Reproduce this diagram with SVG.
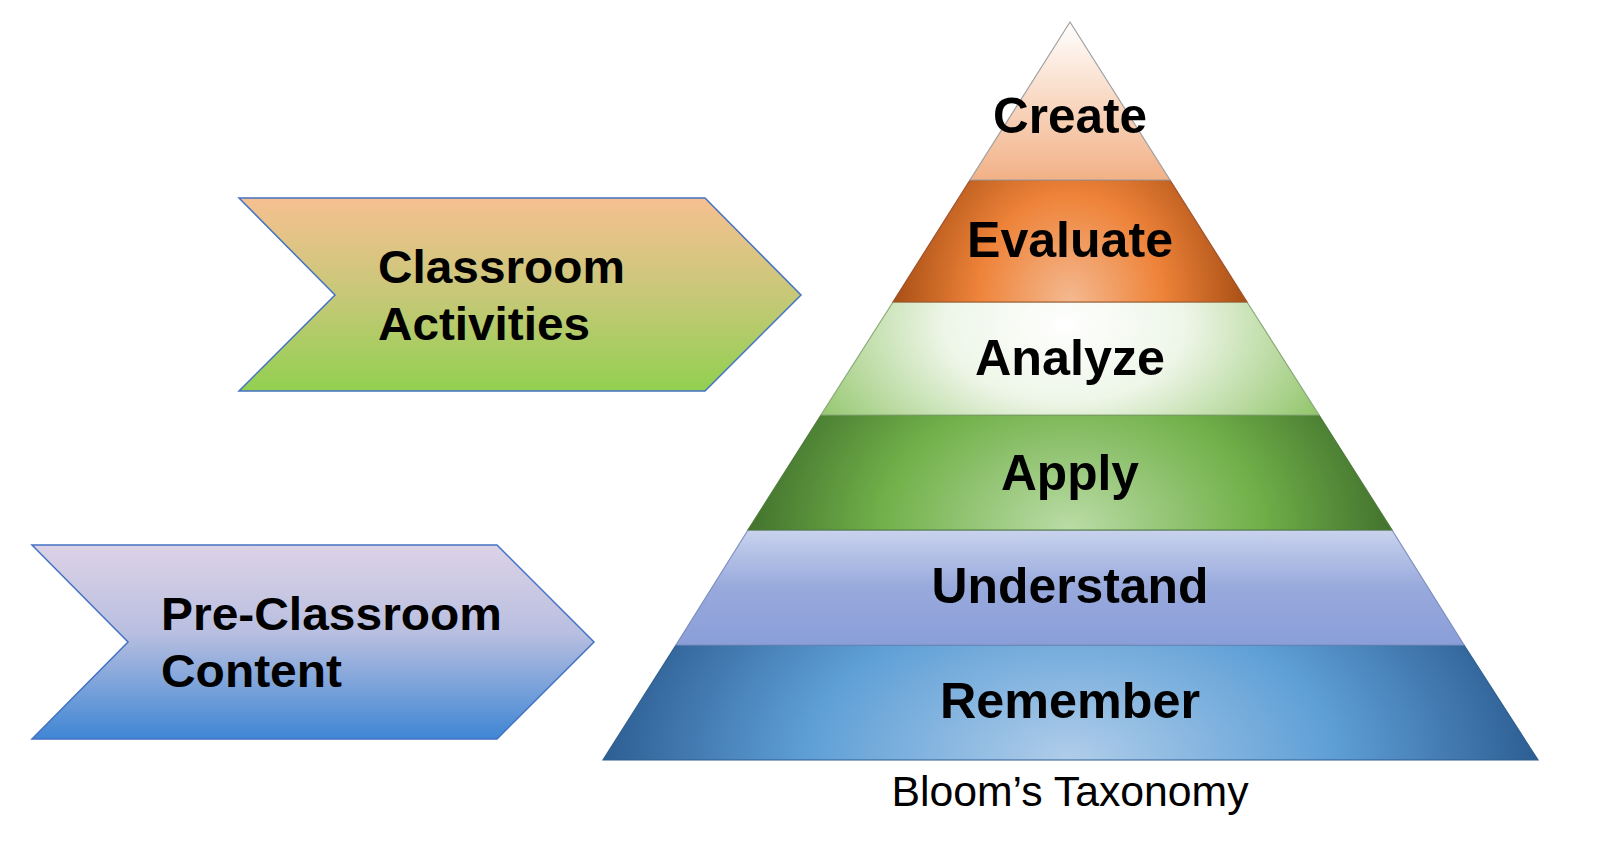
<svg xmlns="http://www.w3.org/2000/svg" width="1600" height="853" viewBox="0 0 1600 853">
<defs>
<linearGradient id="gChev1" x1="0" y1="0" x2="0" y2="1">
<stop offset="0" stop-color="#f6c090"/>
<stop offset="0.5" stop-color="#c7c878"/>
<stop offset="1" stop-color="#92d050"/>
</linearGradient>
<linearGradient id="gChev2" x1="0" y1="0" x2="0" y2="1">
<stop offset="0" stop-color="#dcd2e6"/>
<stop offset="0.45" stop-color="#b9bfe0"/>
<stop offset="1" stop-color="#3f86d4"/>
</linearGradient>
<linearGradient id="gCreate" x1="0" y1="0" x2="0" y2="1">
<stop offset="0" stop-color="#ffffff"/>
<stop offset="1" stop-color="#f2b186"/>
</linearGradient>
<radialGradient id="gEval" gradientUnits="userSpaceOnUse" cx="0" cy="0" r="1" gradientTransform="translate(1070,302) scale(185,215)">
<stop offset="0" stop-color="#f4b990"/>
<stop offset="0.5" stop-color="#ee8339"/>
<stop offset="1" stop-color="#a24a12"/>
</radialGradient>
<radialGradient id="gAnal" gradientUnits="userSpaceOnUse" cx="0" cy="0" r="1" gradientTransform="translate(1065,325) scale(300,190)">
<stop offset="0" stop-color="#ffffff"/>
<stop offset="0.4" stop-color="#eef6e8"/>
<stop offset="1" stop-color="#8cc263"/>
</radialGradient>
<radialGradient id="gApply" gradientUnits="userSpaceOnUse" cx="0" cy="0" r="1" gradientTransform="translate(1070,530) scale(340,255)">
<stop offset="0" stop-color="#bbdca7"/>
<stop offset="0.55" stop-color="#72b14a"/>
<stop offset="1" stop-color="#3c6a29"/>
</radialGradient>
<linearGradient id="gUnder" x1="0" y1="0" x2="0" y2="1">
<stop offset="0" stop-color="#c9d3ee"/>
<stop offset="0.5" stop-color="#98a9dc"/>
<stop offset="1" stop-color="#8a9ed8"/>
</linearGradient>
<radialGradient id="gRem" gradientUnits="userSpaceOnUse" cx="0" cy="0" r="1" gradientTransform="translate(1070,760) scale(480,290)">
<stop offset="0" stop-color="#b0cdea"/>
<stop offset="0.55" stop-color="#5e9fd6"/>
<stop offset="1" stop-color="#2a5a8f"/>
</radialGradient>
</defs>
<style>
.chev{stroke:#4472c4;stroke-width:1.5}
.layer{stroke-width:1.2}
.lbl{font-family:"Liberation Sans",Arial,sans-serif;font-weight:bold;font-size:50px;fill:#000;text-anchor:middle}
.ctxt{font-family:"Liberation Sans",Arial,sans-serif;font-weight:bold;font-size:47px;fill:#000}
.cap{font-family:"Liberation Sans",Arial,sans-serif;font-size:42px;fill:#000;text-anchor:middle}
</style>
<rect width="1600" height="853" fill="#ffffff"/>

<g id="classroom-activities">
<polygon class="chev" points="239,198 705,198 801,295 705,391 239,391 335,295" fill="url(#gChev1)"/>
<text class="ctxt" x="378" y="283" textLength="247" lengthAdjust="spacingAndGlyphs">Classroom</text>
<text class="ctxt" x="378" y="340" textLength="212" lengthAdjust="spacingAndGlyphs">Activities</text>
</g>

<g id="pre-classroom-content">
<polygon class="chev" points="32,545 497,545 594,642 497,739 32,739 128,642" fill="url(#gChev2)"/>
<text class="ctxt" x="161" y="630" textLength="341" lengthAdjust="spacingAndGlyphs">Pre-Classroom</text>
<text class="ctxt" x="161" y="687" textLength="181" lengthAdjust="spacingAndGlyphs">Content</text>
</g>

<g id="pyramid">
<g id="remember">
<polygon class="layer" points="676,645 1464,645 1538,760 603,760" fill="url(#gRem)" stroke="#2f5f8f"/>
<text class="lbl" x="1070" y="718" textLength="260" lengthAdjust="spacingAndGlyphs">Remember</text>
</g>
<g id="understand">
<polygon class="layer" points="748,530 1392,530 1464,645 676,645" fill="url(#gUnder)" stroke="#7f8fbf"/>
<text class="lbl" x="1070" y="603" textLength="277" lengthAdjust="spacingAndGlyphs">Understand</text>
</g>
<g id="apply">
<polygon class="layer" points="821,415 1319,415 1392,530 748,530" fill="url(#gApply)" stroke="#4e7a3a"/>
<text class="lbl" x="1070" y="490" textLength="138" lengthAdjust="spacingAndGlyphs">Apply</text>
</g>
<g id="analyze">
<polygon class="layer" points="893,302 1247,302 1319,415 821,415" fill="url(#gAnal)" stroke="#8aaa78"/>
<text class="lbl" x="1070" y="375" textLength="190" lengthAdjust="spacingAndGlyphs">Analyze</text>
</g>
<g id="evaluate">
<polygon class="layer" points="970,180 1170,180 1247,302 893,302" fill="url(#gEval)" stroke="#a0522d"/>
<text class="lbl" x="1070" y="257" textLength="206" lengthAdjust="spacingAndGlyphs">Evaluate</text>
</g>
<g id="create">
<polygon class="layer" points="1070,22 1170,180 970,180" fill="url(#gCreate)" stroke="#a0a0a0"/>
<text class="lbl" x="1070" y="133" textLength="154" lengthAdjust="spacingAndGlyphs">Create</text>
</g>
</g>

<g id="caption">
<text class="cap" x="1070" y="806" textLength="357" lengthAdjust="spacingAndGlyphs">Bloom’s Taxonomy</text>
</g>

<g id="connectors"></g>
</svg>
